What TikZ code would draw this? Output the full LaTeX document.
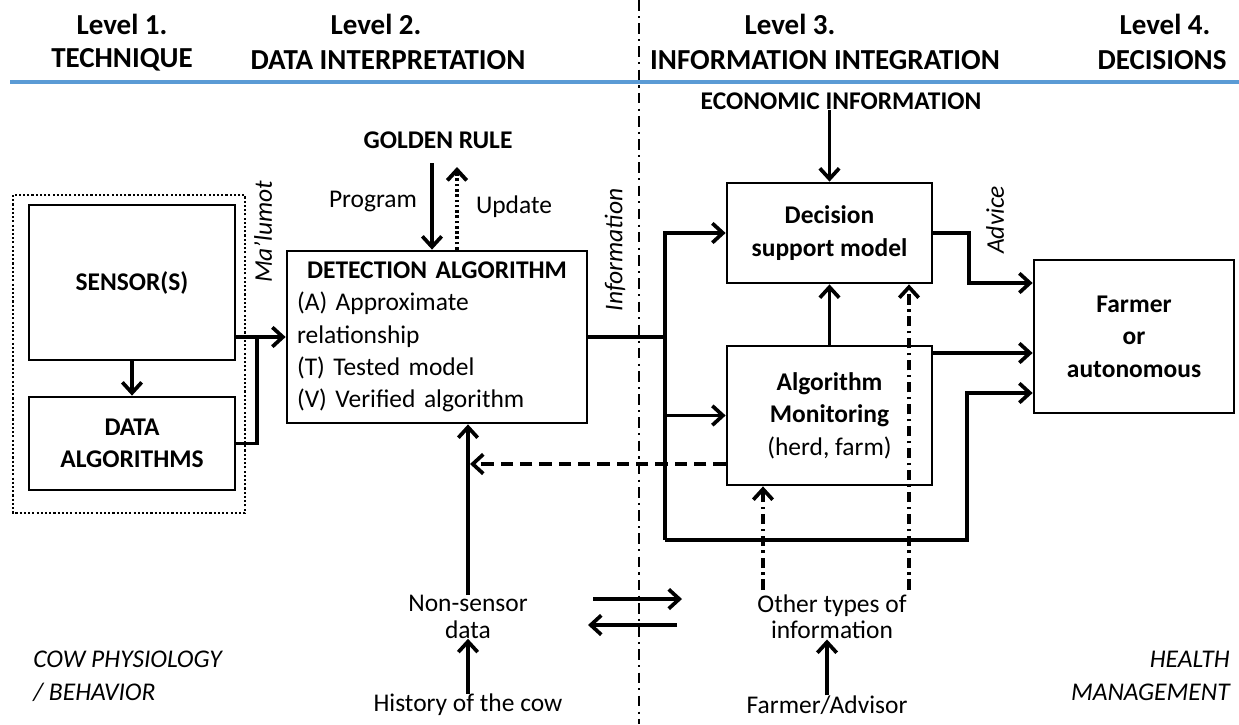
\documentclass[tikz,border=0pt]{standalone}
\usepackage{fontspec}
\setmainfont{Carlito}
\usepackage{xcolor}
\usetikzlibrary{arrows.meta,positioning}
\definecolor{rulerblue}{RGB}{91,155,213}

\begin{document}
\begin{tikzpicture}[x=0.02cm,y=-0.02cm,
  font=\fontsize{14.5}{18.4}\selectfont,
  boxnode/.style={draw, line width=1.6pt, align=center},
  boldtext/.style={font=\fontsize{14.5}{18.4}\selectfont\bfseries, align=center},
  levelhead/.style={font=\fontsize{16.5}{20}\selectfont\bfseries},
  smalltxt/.style={font=\fontsize{14.5}{15}\selectfont, align=center},
  sidetext/.style={font=\fontsize{14.5}{18.7}\selectfont\itshape},
  vlab/.style={rotate=90, font=\fontsize{14.5}{17}\selectfont\itshape},
  arrowtip/.style={-{Straight Barb[length=6pt,width=11pt]}},
  wire/.style={line width=2.1pt},
  arr/.style={wire, arrowtip},
  dashdot/.style={line width=2.1pt, dash pattern=on 6pt off 2.5pt on 1.5pt off 2.5pt},
  dashline/.style={line width=2.1pt, dash pattern=on 7pt off 4pt},
  dotline/.style={line width=2.2pt, dash pattern=on 1.5pt off 1.5pt},
  sepline/.style={line width=1.2pt, dash pattern=on 6pt off 3pt on 1.2pt off 3pt},
  dotbox/.style={line width=1.6pt, dash pattern=on 1.2pt off 1.2pt}]
\tikzstyle{every node}+=[inner sep=0pt]
\useasboundingbox (0,0) rectangle (1239,724);

\node[levelhead] (lev1) at (122,24) {Level 1.};
\node[levelhead] (tech) at (122,60) {TECHNIQUE};
\node[levelhead] (lev2) at (376,24) {Level 2.};
\node[levelhead] (interp) at (388,60) {DATA INTERPRETATION};
\node[levelhead] (lev3) at (790,24) {Level 3.};
\node[levelhead] (integ) at (825,60) {INFORMATION INTEGRATION};
\node[levelhead] (lev4) at (1165,24) {Level 4.};
\node[levelhead] (decis) at (1162,60) {DECISIONS};
\draw[line width=2.4pt, rulerblue] (10,82) -- (1239,82);
\draw[sepline] (639,0) -- (639,724);

\node[boxnode, boldtext, minimum width=4.12cm, minimum height=3.1cm] (sensor) at (132,282.5) {SENSOR(S)};
\node[boxnode, boldtext, minimum width=4.12cm, minimum height=1.86cm] (dataalg) at (132,443.5) {DATA\\ALGORITHMS};
\draw[dotbox] (13,195) rectangle (245,513);
\node[boxnode, minimum width=6cm, minimum height=3.44cm, text width=5.6cm, align=left] (detect) at (437,337)
  {\makebox[\linewidth]{\bfseries DETECTION ALGORITHM}\\(A) Approximate\\relationship\\(T) Tested model\\(V) Verified algorithm};
\node[boxnode, boldtext, minimum width=4.1cm, minimum height=2cm] (decision) at (829.5,233) {Decision\\support model};
\node[boxnode, minimum width=4.1cm, minimum height=2.78cm] (algmon) at (829.5,415.5) {\textbf{Algorithm}\\\textbf{Monitoring}\\(herd, farm)};
\node[boxnode, boldtext, minimum width=4cm, minimum height=3.06cm] (farmer) at (1134,336.5) {Farmer\\or\\autonomous};

\node[boldtext] (golden) at (438,140) {GOLDEN RULE};
\node (program) at (373,202) {Program};
\node (update) at (514,207) {Update};
\node[boldtext] (econ) at (841,101) {ECONOMIC INFORMATION};
\node[smalltxt] (nonsensor) at (468,617) {Non-sensor\\data};
\node (history) at (468,705) {History of the cow};
\node[smalltxt] (others) at (832,617) {Other types of\\information};
\node (advisor) at (827,705) {Farmer/Advisor};
\node[sidetext, anchor=west, align=left] (cow) at (33,676) {COW PHYSIOLOGY\\/ BEHAVIOR};
\node[sidetext, anchor=east, align=right] (health) at (1230,676) {HEALTH\\MANAGEMENT};
\node[vlab] (malumot) at (263,232) {Ma’lumot};
\node[vlab] (info) at (615,250) {Information};
\node[vlab] (advice) at (995,220) {Advice};

\coordinate (join) at (257,337);
\coordinate (busdn) at (665,540);
\coordinate (loop) at (967,540);
\coordinate (fin3) at (967,393);
\coordinate (fin2) at (1000,353);
\coordinate (advin) at (969,283);
\coordinate (pin) at (432,163);
\coordinate (pout) at (457,167);
\coordinate (ret) at (470,464);
\coordinate (oa) at (763,590);
\coordinate (ob) at (909,590);
\coordinate (xr1) at (593,599);
\coordinate (xr2) at (682,599);
\coordinate (xl1) at (677,625);
\coordinate (xl2) at (588,625);

\draw[arr] (sensor) -- (dataalg);
\draw[arr] (sensor.east |- detect.west) -- (detect.west);
\draw[wire] (dataalg.east) -| (join);
\draw[wire] (detect.east) -- (detect.east -| busdn);
\draw[arr] (busdn) |- (decision.west);
\draw[arr] (algmon.west -| busdn) -- (algmon.west);
\draw[arr] (busdn) -- (loop) -- (fin3) -- (fin3 -| farmer.west);
\draw[arr] (decision.east) -| (advin) -- (advin -| farmer.west);
\draw[arr] (fin2 -| algmon.east) -- (fin2 -| farmer.west);
\draw[arr] (algmon) -- (decision);
\draw[arr] (decision.north |- econ.south) -- (decision.north);
\draw[arr, dashdot] (oa) -- (oa |- algmon.south);
\draw[arr, dashdot] (ob) -- (ob |- decision.south);
\draw[arr, dashline] (ret -| algmon.west) -- (ret);
\draw[arr] (pin) -- (pin |- detect.north);
\draw[arr, dotline] (pout |- detect.north) -- (pout);
\draw[arr] (nonsensor) -- (nonsensor |- detect.south);
\draw[arr] (history) -- (nonsensor);
\draw[arr] (advisor.north) -- (advisor.north |- others.south);
\draw[arr] (xr1) -- (xr2);
\draw[arr] (xl1) -- (xl2);
\end{tikzpicture}
\end{document}
